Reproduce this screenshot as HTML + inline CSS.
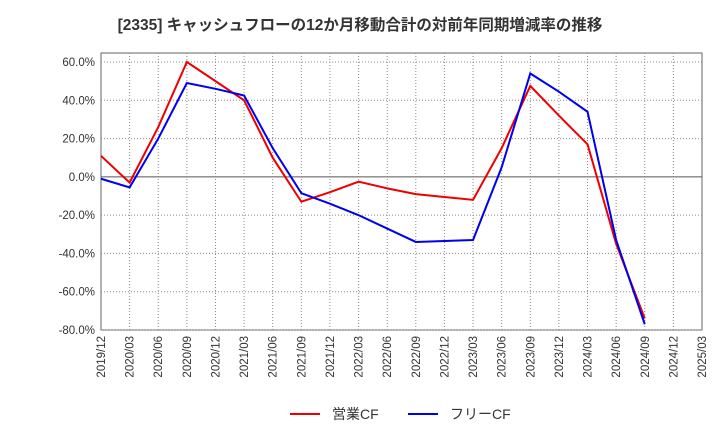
<!DOCTYPE html>
<html><head><meta charset="utf-8"><style>
body{margin:0;background:#fff;font-family:"Liberation Sans","Noto Sans CJK JP",sans-serif}
</style></head><body>
<svg id="c" width="720" height="440" xmlns="http://www.w3.org/2000/svg">
<text x="360" y="30" text-anchor="middle" font-size="15.5" font-weight="bold" fill="#333" font-family="Liberation Sans, Noto Sans CJK JP, sans-serif">[2335]  キャッシュフローの12か月移動合計の対前年同期増減率の推移</text>
<g id="grid"></g><g id="axes"></g><g id="series"></g>
<g>
<line x1="290" y1="414" x2="320" y2="414" stroke="#e00" stroke-width="2"/>
<text x="332" y="419" font-size="14" fill="#333">営業CF</text>
<line x1="408" y1="414" x2="438" y2="414" stroke="#00e" stroke-width="2"/>
<text x="450" y="419" font-size="14" fill="#333">フリーCF</text>
</g>
</svg>
<script>
const xLabels=["2019/12","2020/03","2020/06","2020/09","2020/12","2021/03","2021/06","2021/09","2021/12","2022/03","2022/06","2022/09","2022/12","2023/03","2023/06","2023/09","2023/12","2024/03","2024/06","2024/09","2024/12","2025/03"];
const yTicks=[60,40,20,0,-20,-40,-60,-80];
const operatingCF=[11,-3,26,60,50,40,10,-13,-8,-2.5,-6,-9,-10.5,-12,15,47.5,32,17,-35,-74];
const freeCF=[-1,-5.5,20,49,46,42.5,15,-8.5,-14,-20,-27,-34,-33.5,-33,5,54,44.5,34,-33,-77];
const L=101,R=702,T=53,B=330,ymin=-80,ymax=64.7;
const NS="http://www.w3.org/2000/svg";
function x(i){return L+(R-L)*i/(xLabels.length-1);}
function y(v){return B-(v-ymin)/(ymax-ymin)*(B-T);}
function mk(tag,attrs,parent){const e=document.createElementNS(NS,tag);for(const k in attrs)e.setAttribute(k,attrs[k]);parent.appendChild(e);return e;}
const grid=document.getElementById('grid'),axes=document.getElementById('axes'),ser=document.getElementById('series');
const bg=mk('rect',{x:L,y:T,width:R-L,height:B-T,fill:'#fff',stroke:'#666'},grid);


yTicks.forEach(v=>{
 const g=mk('line',{x1:L,x2:R,y1:y(v),y2:y(v),stroke:v===0?'#555':'#888','stroke-dasharray':v===0?'':'1,2'},grid);
 
 
 const t=mk('text',{x:L-6,y:y(v)+4,'text-anchor':'end','font-size':11.5,fill:'#333'},axes);
 t.textContent=v.toFixed(1)+'%';
 
 
});
xLabels.forEach((l,i)=>{
 if(i>0&&i<xLabels.length-1){const g=mk('line',{x1:x(i),x2:x(i),y1:T,y2:B,stroke:'#888','stroke-dasharray':'1,2'},grid);
 
 }
 const t=mk('text',{transform:`translate(${x(i)+4},${B+6}) rotate(-90)`,'text-anchor':'end','font-size':11.5,fill:'#333'},axes);
 t.textContent=l;
 
 
});
function line(d,c,name){const p=mk('polyline',{points:d.map((v,i)=>x(i)+','+y(v)).join(' '),fill:'none',stroke:c,'stroke-width':2},ser);
 
 }
line(operatingCF,'#e00','operating-cf-line');
line(freeCF,'#00e','free-cf-line');
</script>
</body></html>
